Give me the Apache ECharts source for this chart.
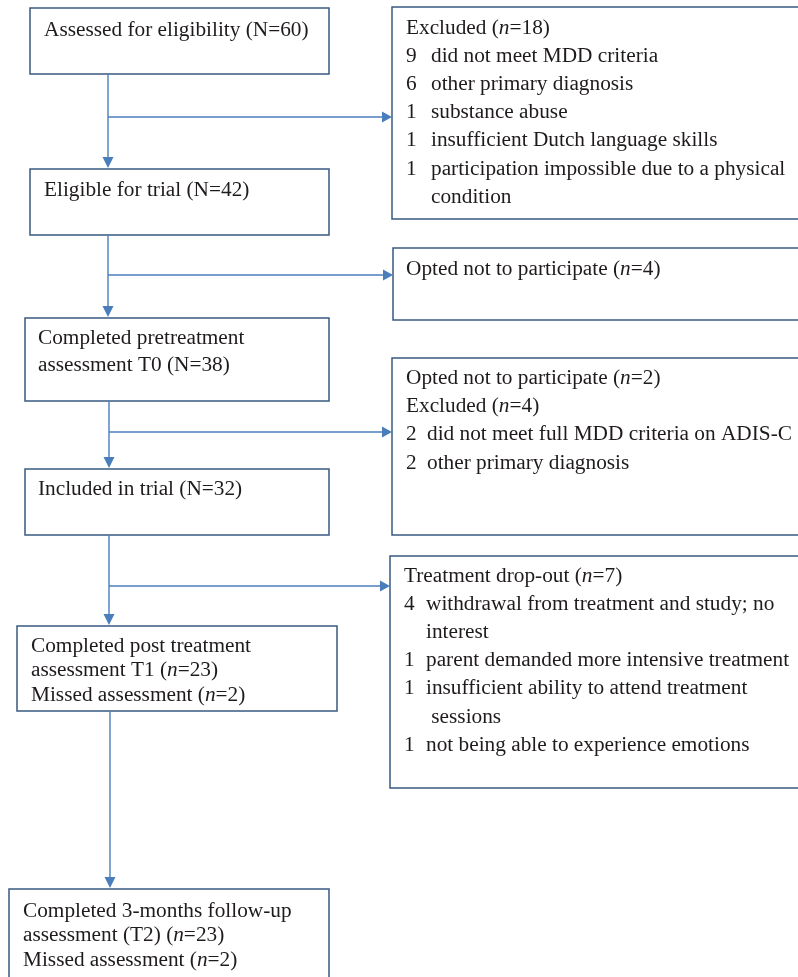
<!DOCTYPE html>
<html>
<head>
<meta charset="utf-8">
<script src="https://cdn.jsdelivr.net/npm/echarts@6/dist/echarts.min.js"></script>
<style>
html,body{margin:0;padding:0;background:#fff;}
#chart{width:798px;height:977px;}
</style>
</head>
<body>
<div id="chart"></div>
<script>
// ---- content ----
const mainSteps = [
  ['Assessed for eligibility (N=60)'],
  ['Eligible for trial (N=42)'],
  ['Completed pretreatment', 'assessment T0 (N=38)'],
  ['Included in trial (N=32)'],
  ['Completed post treatment', 'assessment T1 ({i|n}=23)', 'Missed assessment ({i|n}=2)'],
  ['Completed 3-months follow-up', 'assessment (T2) ({i|n}=23)', 'Missed assessment ({i|n}=2)']
];
const sideHeaders = [
  ['Excluded ({i|n}=18)'],
  ['Opted not to participate ({i|n}=4)'],
  ['Opted not to participate ({i|n}=2)', 'Excluded ({i|n}=4)'],
  ['Treatment drop-out ({i|n}=7)']
];
const sideCounts = [
  [9, 6, 1, 1, 1],
  [],
  [2, 2],
  [4, 1, 1, 1]
];
const sideReasons = [
  ['did not meet MDD criteria', 'other primary diagnosis', 'substance abuse',
   'insufficient Dutch language skills', 'participation impossible due to a physical\ncondition'],
  [],
  ['did not meet full MDD criteria on ADIS-C', 'other primary diagnosis'],
  ['withdrawal from treatment and study; no\ninterest', 'parent demanded more intensive treatment',
   'insufficient ability to attend treatment\n sessions', 'not being able to experience emotions']
];

// ---- layout (page units, mapped through hidden axes) ----
// [x0, y0, x1, y1, textX, lineHeight, firstLineOffset]
const mainLayout = [
  [30, 8, 329, 74, 44, 27, 22],
  [30, 169, 329, 235, 44, 27, 21],
  [25, 318, 329, 401, 38, 27, 20],
  [25, 469, 329, 535, 38, 27, 20],
  [17, 626, 337, 711, 31, 24.5, 20],
  [9, 889, 329, 1010, 23, 24.5, 22]
];
// [x0, y0, x1, y1, textX, reasonX, lineHeight, firstLineOffset]
const sideLayout = [
  [392, 7, 840, 219, 406, 431, 28.2, 21],
  [393, 248, 840, 320, 406, 431, 28.2, 21],
  [392, 358, 840, 535, 406, 427, 28.3, 20],
  [390, 556, 840, 788, 404, 426, 28.2, 20]
];
// trunk: [x, yFrom, yTo]
const trunkLayout = [
  [108, 74, 169], [108, 235, 318], [109, 401, 469], [109, 535, 626], [110, 711, 889]
];
// branch: [y, xFrom, xTo]
const branchLayout = [
  [117, 108, 392], [275, 108, 393], [432, 109, 392], [586, 109, 390]
];

const FONT = "'Liberation Serif', 'Times New Roman', serif";
const FS = 21.3;
const TXT = '#1f1b1c';
const BORDER = '#385a80';
const ARROW = '#4a7ebb';

function textEl(str, pt) {
  return {
    type: 'text',
    style: {
      text: str, x: pt[0], y: pt[1],
      fill: TXT, fontFamily: FONT, fontSize: FS,
      verticalAlign: 'middle', align: 'left',
      rich: { i: { fontStyle: 'italic', fontFamily: FONT, fontSize: FS, fill: TXT } }
    }
  };
}
function rectEl(api) {
  const p0 = api.coord([api.value(0), api.value(1)]);
  const p1 = api.coord([api.value(2), api.value(3)]);
  return {
    type: 'rect',
    shape: { x: p0[0], y: p0[1], width: p1[0] - p0[0], height: p1[1] - p0[1] },
    style: { fill: '#fff', stroke: BORDER, lineWidth: 1.5 }
  };
}

function renderMain(params, api) {
  const i = params.dataIndex;
  const L = mainLayout[i];
  const children = [rectEl(api)];
  mainSteps[i].forEach((line, k) => {
    children.push(textEl(line, api.coord([L[4], L[1] + L[6] + k * L[5]])));
  });
  return { type: 'group', children };
}

function renderSide(params, api) {
  const i = params.dataIndex;
  const L = sideLayout[i];
  const children = [rectEl(api)];
  let row = 0;
  const yAt = r => L[1] + L[7] + r * L[6];
  sideHeaders[i].forEach(line => {
    children.push(textEl(line, api.coord([L[4], yAt(row)])));
    row++;
  });
  sideCounts[i].forEach((c, k) => {
    children.push(textEl(String(c), api.coord([L[4], yAt(row)])));
    sideReasons[i][k].split('\n').forEach(part => {
      children.push(textEl(part, api.coord([L[5], yAt(row)])));
      row++;
    });
  });
  return { type: 'group', children };
}

function renderTrunk(params, api) {
  const x = api.value(0), y0 = api.value(1), y1 = api.value(2);
  const a = api.coord([x, y0]);
  const tip = api.coord([x, y1 - 1]);
  return {
    type: 'group',
    children: [
      { type: 'line', shape: { x1: a[0], y1: a[1], x2: tip[0], y2: tip[1] - 8 },
        style: { stroke: ARROW, lineWidth: 1.4 } },
      { type: 'polygon', shape: { points: [[tip[0], tip[1]], [tip[0] - 5.5, tip[1] - 11], [tip[0] + 5.5, tip[1] - 11]] },
        style: { fill: ARROW } }
    ]
  };
}

function renderBranch(params, api) {
  const y = api.value(0), x0 = api.value(1), x1 = api.value(2);
  const a = api.coord([x0, y]);
  const tip = api.coord([x1, y]);
  return {
    type: 'group',
    children: [
      { type: 'line', shape: { x1: a[0], y1: a[1], x2: tip[0] - 8, y2: tip[1] },
        style: { stroke: ARROW, lineWidth: 1.3 } },
      { type: 'polygon', shape: { points: [[tip[0], tip[1]], [tip[0] - 10, tip[1] - 5.5], [tip[0] - 10, tip[1] + 5.5]] },
        style: { fill: ARROW } }
    ]
  };
}

const chart = echarts.init(document.getElementById('chart'), null, { renderer: 'canvas' });
chart.setOption({
  backgroundColor: '#fff',
  animation: false,
  grid: { left: 0, right: 0, top: 0, bottom: 0 },
  xAxis: { type: 'value', min: 0, max: 798, show: false },
  yAxis: { type: 'value', min: 0, max: 977, inverse: true, show: false },
  series: [
    { type: 'custom', clip: false, z: 2, renderItem: renderMain,
      data: mainLayout.map(l => [l[0], l[1], l[2], l[3]]) },
    { type: 'custom', clip: false, z: 2, renderItem: renderSide,
      data: sideLayout.map(l => [l[0], l[1], l[2], l[3]]) },
    { type: 'custom', clip: false, z: 3, renderItem: renderTrunk, data: trunkLayout },
    { type: 'custom', clip: false, z: 3, renderItem: renderBranch, data: branchLayout }
  ]
});
</script>
</body>
</html>
